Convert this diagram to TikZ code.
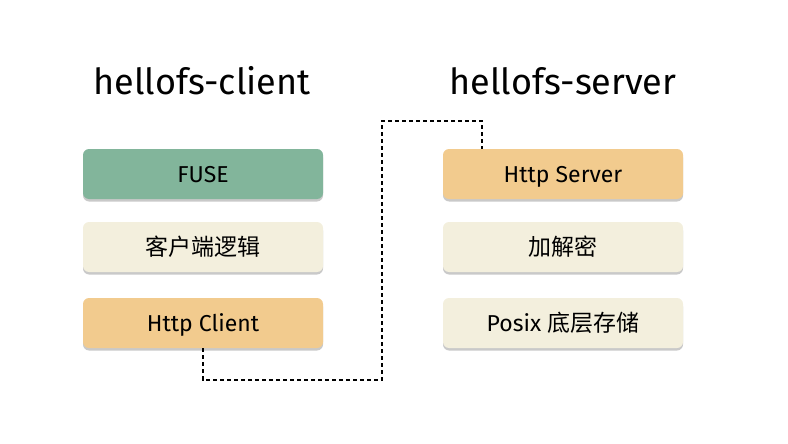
\documentclass[tikz,border=0pt]{standalone}
\usepackage{fontspec}
\setmainfont{Fira Sans}
\newfontfamily\cjk{Noto Sans CJK SC}
\usetikzlibrary{shadows}
\definecolor{fusegreen}{HTML}{82B59B}
\definecolor{creambox}{HTML}{F3EFDD}
\definecolor{orangebox}{HTML}{F2CB8E}
\tikzset{
  blk/.style={rounded corners=6pt, minimum width=240pt, minimum height=50pt, inner sep=0pt,
    font=\fontsize{23}{26}\selectfont, text height=16pt, text depth=0pt,
    drop shadow={shadow xshift=0pt, shadow yshift=-2.5pt, opacity=0.3, fill=black!70}},
  heading/.style={font=\fontsize{36}{40}\selectfont, inner sep=0pt, anchor=base},
  link/.style={draw=black, line width=1.8pt, dash pattern=on 4pt off 3pt}
}
\begin{document}
\begin{tikzpicture}[x=1pt,y=-1pt]
\useasboundingbox (0,0) rectangle (788,444);
\node[heading] (hc) at (202,95) {hellofs-client};
\node[heading] (hs) at (563,95) {hellofs-server};
\node[blk, fill=fusegreen] (fuse) at (203,174) {FUSE};
\node[blk, fill=creambox] (logic) at (203,247) {\cjk 客户端逻辑};
\node[blk, fill=orangebox] (hcli) at (203,323) {Http Client};
\node[blk, fill=orangebox] (hsrv) at (563,174) {Http Server};
\node[blk, fill=creambox] (crypt) at (563,247) {\cjk 加解密};
\node[blk, fill=creambox] (posix) at (563,323) {Posix {\cjk 底层存储}};
\coordinate (c1) at (203,380);
\coordinate (c2) at (382,380);
\coordinate (c3) at (382,121);
\coordinate (c4) at (482,121);
\draw[link] (hcli.south) -- (c1) -- (c2) -- (c3) -- (c4) -- (c4 |- hsrv.north);
\end{tikzpicture}
\end{document}
